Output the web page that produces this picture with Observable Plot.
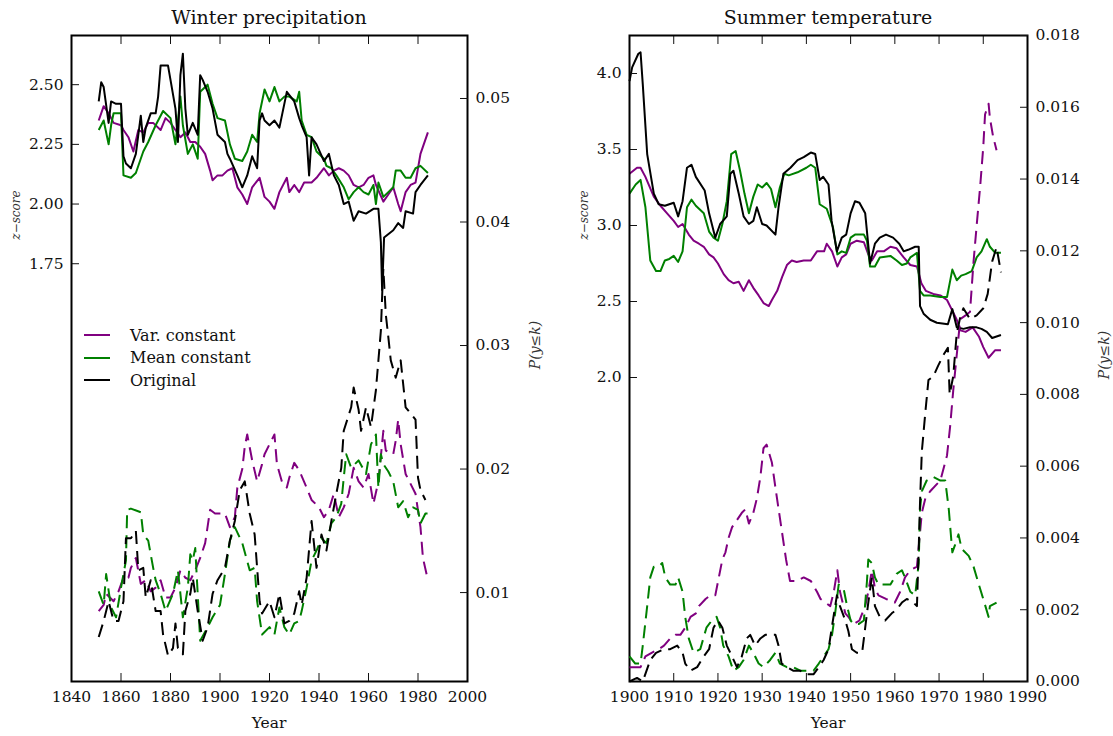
<!DOCTYPE html>
<html><head><meta charset="utf-8">
<script src="https://cdn.jsdelivr.net/npm/d3@7"></script>
<script src="https://cdn.jsdelivr.net/npm/@observablehq/plot@0.6"></script>
<style>
body{margin:0;background:#fff;}
#chart{position:relative;width:1113px;height:736px;font-family:'DejaVu Serif',serif;color:#111;background:#fff;}
.lbl{position:absolute;white-space:nowrap;line-height:1;}
.rot{transform:translate(-50%,-50%) rotate(-90deg);}
.ctr{transform:translate(-50%,-50%);}
.leg{position:absolute;left:84px;top:324px;font-size:16px;}
.leg div{height:22.5px;display:flex;align-items:center;}
.leg span.sw{display:inline-block;width:26px;height:0;border-top:2.5px solid;margin-right:20px;}
</style></head><body><div id="chart"></div>
<script>
// ---------- Winter precipitation (left panel) ----------
const wpYears = [1840, 1860, 1880, 1900, 1920, 1940, 1960, 1980, 2000];
const wpZTicks = [1.75, 2.00, 2.25, 2.50];
const wpPTicks = [0.01, 0.02, 0.03, 0.04, 0.05];

// z-score, solid lines
const wpVarZ = [[1851,2.35],[1853,2.41],[1855,2.38],[1857,2.34],[1860,2.33],[1861,2.31],[1863,2.28],[1865,2.22],[1867,2.31],[1869,2.30],[1871,2.34],[1873,2.34],[1876,2.31],[1878,2.36],[1880,2.34],[1882,2.31],[1884,2.28],[1886,2.30],[1888,2.26],[1890,2.26],[1892,2.24],[1894,2.21],[1896,2.14],[1897,2.10],[1899,2.12],[1901,2.12],[1903,2.14],[1905,2.15],[1907,2.07],[1909,2.04],[1911,2.00],[1913,2.07],[1916,2.11],[1918,2.03],[1920,2.01],[1922,1.98],[1924,2.05],[1927,2.11],[1928,2.05],[1930,2.08],[1932,2.05],[1934,2.09],[1937,2.09],[1939,2.11],[1942,2.15],[1944,2.12],[1946,2.14],[1948,2.15],[1950,2.14],[1952,2.12],[1954,2.08],[1956,2.07],[1958,2.08],[1960,2.11],[1962,2.12],[1963,2.08],[1966,2.01],[1968,2.04],[1970,2.07],[1972,2.00],[1973,1.97],[1975,2.05],[1977,2.08],[1979,2.09],[1981,2.21],[1984,2.30]];
const wpMeanZ = [[1851,2.31],[1853,2.35],[1855,2.25],[1856,2.33],[1857,2.38],[1860,2.38],[1861,2.12],[1864,2.11],[1866,2.13],[1869,2.22],[1871,2.26],[1874,2.33],[1877,2.39],[1880,2.36],[1882,2.25],[1884,2.45],[1885,2.33],[1887,2.21],[1889,2.25],[1891,2.19],[1892,2.47],[1895,2.50],[1897,2.42],[1899,2.36],[1902,2.35],[1904,2.25],[1906,2.19],[1909,2.18],[1911,2.22],[1913,2.29],[1915,2.26],[1916,2.38],[1918,2.48],[1920,2.43],[1922,2.49],[1924,2.43],[1926,2.45],[1928,2.45],[1931,2.43],[1932,2.47],[1933,2.35],[1935,2.29],[1937,2.28],[1939,2.22],[1942,2.19],[1943,2.16],[1945,2.15],[1947,2.12],[1950,2.07],[1952,2.02],[1954,2.05],[1956,2.07],[1958,2.05],[1960,2.04],[1962,2.08],[1963,2.00],[1964,2.09],[1966,2.03],[1968,2.05],[1970,2.07],[1971,2.14],[1973,2.14],[1975,2.11],[1977,2.11],[1979,2.15],[1981,2.16],[1984,2.13]];
const wpOrigZ = [[1851,2.43],[1852,2.51],[1853,2.49],[1855,2.34],[1856,2.43],[1858,2.42],[1860,2.42],[1861,2.20],[1862,2.17],[1864,2.15],[1866,2.21],[1868,2.37],[1869,2.26],[1870,2.32],[1872,2.38],[1874,2.38],[1875,2.45],[1876,2.58],[1879,2.58],[1880,2.52],[1882,2.40],[1883,2.26],[1884,2.54],[1885,2.63],[1886,2.40],[1887,2.29],[1889,2.34],[1891,2.29],[1892,2.54],[1893,2.52],[1895,2.47],[1897,2.40],[1899,2.29],[1900,2.28],[1902,2.26],[1903,2.21],[1904,2.19],[1907,2.12],[1909,2.07],[1911,2.12],[1913,2.20],[1915,2.15],[1916,2.35],[1917,2.38],[1918,2.35],[1920,2.33],[1922,2.35],[1924,2.32],[1927,2.47],[1930,2.43],[1932,2.36],[1933,2.33],[1935,2.28],[1936,2.12],[1937,2.28],[1939,2.25],[1942,2.18],[1944,2.21],[1946,2.12],[1948,2.08],[1950,2.00],[1952,2.01],[1954,1.93],[1956,1.97],[1959,1.96],[1962,1.98],[1964,1.98],[1965,1.84],[1965.5,1.64],[1966.3,1.86],[1970,1.89],[1972,1.92],[1974,1.90],[1975,1.97],[1978,1.96],[1979,2.05],[1981,2.08],[1984,2.12]];

// P(y<=k), dashed lines
const wpVarP = [[1851,0.0085],[1853,0.0090],[1854,0.0099],[1857,0.0093],[1859,0.0101],[1861,0.0112],[1863,0.0112],[1864,0.0120],[1866,0.0128],[1868,0.0107],[1870,0.0110],[1872,0.0101],[1874,0.0104],[1876,0.0110],[1878,0.0096],[1880,0.0096],[1882,0.0104],[1884,0.0118],[1886,0.0112],[1888,0.0110],[1890,0.0118],[1892,0.0128],[1894,0.0140],[1896,0.0167],[1898,0.0164],[1900,0.0164],[1902,0.0164],[1904,0.0153],[1906,0.0161],[1907,0.0185],[1909,0.0200],[1910,0.0218],[1911,0.0228],[1913,0.0207],[1915,0.0190],[1917,0.0204],[1918,0.0212],[1920,0.0220],[1922,0.0228],[1923,0.0204],[1925,0.0190],[1927,0.0185],[1928,0.0193],[1930,0.0205],[1932,0.0199],[1935,0.0185],[1937,0.0175],[1940,0.0169],[1942,0.0161],[1944,0.0167],[1946,0.0180],[1948,0.0161],[1950,0.0169],[1952,0.0180],[1954,0.0201],[1956,0.0190],[1958,0.0185],[1960,0.0196],[1962,0.0172],[1964,0.0190],[1966,0.0231],[1967,0.0215],[1970,0.0212],[1971,0.0223],[1972,0.0240],[1973,0.0220],[1975,0.0196],[1977,0.0188],[1979,0.0180],[1981,0.0153],[1982,0.0128],[1984,0.0110]];
const wpMeanP = [[1851,0.0101],[1853,0.0090],[1854,0.0115],[1856,0.0088],[1858,0.0080],[1860,0.0104],[1862,0.0126],[1862.5,0.0167],[1864,0.0168],[1868,0.0165],[1869,0.0147],[1871,0.0142],[1873,0.0120],[1874,0.0110],[1876,0.0099],[1878,0.0085],[1881,0.0099],[1883,0.0118],[1885,0.0080],[1887,0.0104],[1888,0.0131],[1889,0.0126],[1890,0.0136],[1892,0.0061],[1895,0.0072],[1897,0.0080],[1900,0.0090],[1902,0.0115],[1904,0.0142],[1906,0.0153],[1909,0.0140],[1912,0.0118],[1914,0.0120],[1915,0.0093],[1917,0.0066],[1920,0.0072],[1922,0.0066],[1924,0.0088],[1926,0.0072],[1928,0.0066],[1930,0.0075],[1932,0.0077],[1933,0.0085],[1935,0.0104],[1937,0.0126],[1939,0.0134],[1941,0.0144],[1943,0.0140],[1945,0.0156],[1947,0.0161],[1949,0.0172],[1950,0.0193],[1951,0.0212],[1953,0.0201],[1956,0.0207],[1959,0.0196],[1961,0.0220],[1963,0.0228],[1964,0.0185],[1965,0.0212],[1966,0.0204],[1968,0.0198],[1970,0.0190],[1972,0.0169],[1974,0.0174],[1976,0.0161],[1978,0.0169],[1980,0.0167],[1981,0.0156],[1983,0.0164],[1984,0.0164]];
const wpOrigP = [[1851,0.0064],[1853,0.0077],[1855,0.0093],[1857,0.0077],[1859,0.0077],[1861,0.0093],[1862,0.0144],[1864,0.0144],[1866,0.0150],[1867,0.0118],[1869,0.0120],[1870,0.0096],[1872,0.0110],[1874,0.0085],[1876,0.0085],[1877,0.0066],[1879,0.0049],[1881,0.0055],[1882,0.0075],[1883,0.0055],[1885,0.0050],[1886,0.0085],[1888,0.0099],[1889,0.0112],[1891,0.0085],[1893,0.0061],[1895,0.0072],[1897,0.0099],[1899,0.0110],[1902,0.0120],[1904,0.0142],[1906,0.0158],[1908,0.0183],[1910,0.0190],[1912,0.0164],[1914,0.0147],[1915,0.0120],[1916,0.0093],[1917,0.0083],[1920,0.0093],[1922,0.0080],[1924,0.0099],[1926,0.0075],[1928,0.0077],[1930,0.0083],[1932,0.0101],[1933,0.0090],[1935,0.0112],[1937,0.0158],[1939,0.0120],[1941,0.0147],[1943,0.0134],[1945,0.0158],[1947,0.0180],[1949,0.0201],[1950,0.0231],[1953,0.0250],[1954,0.0266],[1956,0.0248],[1957,0.0231],[1959,0.0250],[1961,0.0234],[1963,0.0264],[1964,0.0288],[1965,0.0312],[1965.6,0.0345],[1966,0.0362],[1967,0.0325],[1968,0.0307],[1969,0.0288],[1971,0.0274],[1973,0.0288],[1975,0.0250],[1977,0.0245],[1979,0.0240],[1980,0.0193],[1981,0.0183],[1983,0.0175]];

// ---------- Summer temperature (right panel) ----------
const stYears = [1900, 1910, 1920, 1930, 1940, 1950, 1960, 1970, 1980, 1990];
const stZTicks = [2.0, 2.5, 3.0, 3.5, 4.0];
const stPTicks = [0, 0.002, 0.004, 0.006, 0.008, 0.010, 0.012, 0.014, 0.016, 0.018];

const stVarZ = [[1900,3.34],[1901.7,3.38],[1902.5,3.38],[1903.6,3.32],[1905.5,3.19],[1907,3.13],[1908.5,3.08],[1910,3.03],[1911,2.99],[1912,3.01],[1913.4,2.94],[1914.5,2.90],[1915.7,2.88],[1916.8,2.86],[1918,2.81],[1919,2.79],[1920,2.75],[1921.3,2.68],[1922.4,2.64],[1923.5,2.62],[1924.7,2.63],[1925.8,2.57],[1927,2.64],[1928,2.59],[1929.2,2.54],[1930.3,2.49],[1931.5,2.47],[1932.2,2.51],[1933.4,2.57],[1934.5,2.66],[1935.6,2.74],[1936.7,2.77],[1937.8,2.76],[1939.4,2.77],[1941,2.77],[1942.4,2.83],[1944,2.83],[1944.6,2.88],[1945.8,2.83],[1947,2.73],[1948,2.79],[1949,2.81],[1950,2.88],[1951.4,2.90],[1953,2.89],[1954,2.81],[1954.8,2.77],[1956,2.83],[1957.5,2.83],[1959,2.86],[1960.4,2.85],[1962,2.79],[1963.5,2.74],[1965,2.73],[1966,2.62],[1967,2.57],[1968.7,2.55],[1970.3,2.54],[1971.8,2.51],[1973,2.44],[1974,2.38],[1974.8,2.31],[1976,2.30],[1977.6,2.33],[1979,2.27],[1980,2.20],[1981.2,2.13],[1982.7,2.18],[1984,2.18]];
const stMeanZ = [[1900,3.21],[1901.4,3.27],[1902.5,3.30],[1903.6,3.12],[1904.7,2.77],[1906,2.70],[1907,2.70],[1908,2.77],[1909,2.78],[1910,2.80],[1911,2.76],[1912,2.83],[1913,3.12],[1914,3.17],[1915,3.13],[1916.8,3.08],[1918,2.96],[1919,2.92],[1920,2.90],[1921,3.01],[1922,3.16],[1923,3.47],[1924,3.49],[1925,3.36],[1926,3.21],[1927,3.08],[1928,3.19],[1929,3.27],[1930,3.25],[1931,3.28],[1932,3.24],[1933,3.12],[1934,3.25],[1935,3.34],[1936,3.33],[1938,3.35],[1940,3.38],[1941,3.40],[1942,3.38],[1943,3.14],[1944.6,3.11],[1946,2.99],[1947,2.81],[1948,2.83],[1949,2.82],[1950,2.92],[1951,2.94],[1953,2.94],[1953.7,2.90],[1954.4,2.73],[1955.5,2.73],[1956.6,2.79],[1959,2.80],[1960.4,2.77],[1961.6,2.74],[1962.7,2.75],[1963.5,2.79],[1965,2.82],[1965.7,2.57],[1966.5,2.54],[1968,2.54],[1970.3,2.53],[1971.8,2.53],[1973,2.71],[1974,2.64],[1975,2.67],[1976,2.68],[1977.4,2.70],[1978.5,2.79],[1979.6,2.83],[1980.8,2.91],[1981.5,2.86],[1982.7,2.82],[1984,2.82]];
const stOrigZ = [[1900,3.95],[1900.6,4.04],[1902,4.13],[1902.5,4.14],[1903,3.93],[1904,3.47],[1905.5,3.21],[1906.6,3.14],[1908,3.13],[1910,3.15],[1911,3.06],[1912,3.16],[1913,3.38],[1914,3.40],[1915,3.32],[1917,3.23],[1918,3.08],[1919.4,2.92],[1920.5,3.01],[1922,3.06],[1922.8,3.34],[1923.5,3.36],[1924.7,3.21],[1925.8,3.06],[1927,3.01],[1928,3.03],[1928.8,3.12],[1930,3.01],[1931,3.00],[1933,2.94],[1933.7,3.12],[1934.8,3.34],[1936.4,3.38],[1938,3.43],[1939.4,3.45],[1941,3.48],[1942,3.47],[1943,3.30],[1943.8,3.32],[1945,3.27],[1945.7,3.03],[1946.9,2.83],[1948,2.92],[1949,2.94],[1950,3.08],[1951,3.16],[1952,3.15],[1953.3,3.08],[1954.4,2.75],[1955.5,2.88],[1956.6,2.92],[1958,2.94],[1959.6,2.92],[1961,2.88],[1962,2.83],[1963,2.84],[1964.6,2.86],[1965.4,2.86],[1965.7,2.47],[1966.5,2.42],[1968,2.38],[1969.5,2.36],[1972,2.35],[1973,2.45],[1974,2.33],[1975.5,2.32],[1977,2.33],[1978.5,2.33],[1979.6,2.32],[1980.8,2.30],[1982,2.26],[1984,2.28]];

const stVarP = [[1900,0.0004],[1901.3,0.0004],[1902.5,0.0004],[1903.6,0.0007],[1905,0.0008],[1906.6,0.0009],[1907.8,0.0010],[1909.2,0.0012],[1910.4,0.0013],[1911.5,0.0013],[1912.6,0.0015],[1913.8,0.0018],[1915,0.0019],[1915.7,0.0021],[1917.2,0.0023],[1918.3,0.0024],[1919.4,0.0024],[1920.2,0.0029],[1921,0.0034],[1921.7,0.0036],[1922.4,0.0040],[1923.2,0.0043],[1924.3,0.0045],[1925.4,0.0047],[1926.2,0.0048],[1927,0.0044],[1928,0.0047],[1928.8,0.0051],[1929.6,0.0057],[1930.3,0.0065],[1931,0.0066],[1932.2,0.0061],[1933,0.0054],[1934.2,0.0044],[1935.4,0.0034],[1936.3,0.0028],[1937.8,0.0028],[1939.4,0.0029],[1941,0.0028],[1942.4,0.0025],[1943.2,0.0023],[1944.3,0.0022],[1945.4,0.0021],[1946.2,0.0025],[1947,0.0031],[1947.6,0.0025],[1948.8,0.0019],[1949.5,0.0018],[1950.7,0.0016],[1952,0.0017],[1953.3,0.0021],[1954,0.0025],[1954.8,0.0031],[1955.5,0.0026],[1956.3,0.0024],[1958,0.0023],[1960,0.0022],[1961.2,0.0025],[1962.3,0.0029],[1963.5,0.0031],[1965,0.0032],[1966.1,0.0047],[1966.9,0.0051],[1968,0.0053],[1969.5,0.0055],[1970.3,0.0056],[1971.8,0.0063],[1972.5,0.0071],[1973.2,0.0081],[1974,0.0091],[1974.8,0.0101],[1976,0.0102],[1977,0.0103],[1977.8,0.0117],[1978.5,0.0127],[1979.3,0.0138],[1980,0.0149],[1980.4,0.0158],[1981.2,0.0161],[1981.5,0.0157],[1982.2,0.0152],[1983,0.0148]];
const stMeanP = [[1900,0.0007],[1901.3,0.0005],[1902.5,0.0005],[1903,0.0010],[1904,0.0021],[1904.7,0.0029],[1905.5,0.0032],[1906.6,0.0032],[1907.4,0.0033],[1908.1,0.0029],[1909.2,0.0027],[1910.4,0.0027],[1911,0.0029],[1912,0.0025],[1912.6,0.0018],[1913.4,0.0012],[1914.5,0.0008],[1916,0.0009],[1917.4,0.0015],[1918.6,0.0017],[1919.7,0.0018],[1920.5,0.0015],[1921.2,0.0010],[1922.4,0.0007],[1923.5,0.0003],[1924.7,0.0004],[1925.8,0.0006],[1927,0.0010],[1928,0.0008],[1929.2,0.0005],[1930.3,0.0004],[1931.8,0.0006],[1933,0.0008],[1934,0.0005],[1935.6,0.0004],[1937,0.0004],[1938.6,0.0003],[1940,0.0003],[1941.6,0.0003],[1942.8,0.0005],[1943.9,0.0007],[1945,0.0009],[1945.8,0.0013],[1946.5,0.0019],[1947.3,0.0027],[1948.4,0.0026],[1949.2,0.0021],[1950,0.0017],[1950.7,0.0016],[1951.8,0.0016],[1953,0.0017],[1953.7,0.0028],[1954,0.0034],[1954.8,0.0033],[1955.5,0.0029],[1956.3,0.0027],[1957.4,0.0027],[1959,0.0027],[1960.4,0.0030],[1961.6,0.0031],[1962.3,0.0029],[1963.5,0.0025],[1964.6,0.0024],[1965.4,0.0033],[1965.7,0.0048],[1966.1,0.0053],[1967.2,0.0056],[1968.7,0.0057],[1970.3,0.0056],[1971.4,0.0056],[1972.2,0.0048],[1973,0.0036],[1973.6,0.0038],[1974.4,0.0041],[1975.1,0.0037],[1976.7,0.0035],[1977.8,0.0032],[1979,0.0027],[1980,0.0023],[1981.2,0.0018],[1981.5,0.0021],[1983,0.0022]];
const stOrigP = [[1900,0.0000],[1901.7,0.0001],[1903,0.0000],[1904.7,0.0006],[1906,0.0008],[1907.8,0.0009],[1909.2,0.0009],[1910.8,0.0010],[1912,0.0008],[1912.6,0.0005],[1913.8,0.0003],[1915.3,0.0004],[1916.8,0.0007],[1918,0.0009],[1919,0.0015],[1920,0.0017],[1921,0.0015],[1922,0.0010],[1922.8,0.0008],[1924.3,0.0004],[1925.4,0.0007],[1926.5,0.0012],[1927.3,0.0013],[1928.4,0.0010],[1929.6,0.0012],[1930.7,0.0013],[1933,0.0013],[1933.7,0.0010],[1934.4,0.0005],[1935.6,0.0004],[1937,0.0003],[1938.6,0.0003],[1940,0.0002],[1941.6,0.0002],[1942.8,0.0004],[1943.9,0.0006],[1945,0.0009],[1946,0.0017],[1946.9,0.0024],[1947.6,0.0021],[1948.8,0.0017],[1949.5,0.0014],[1950.3,0.0009],[1951.4,0.0008],[1952.6,0.0008],[1953.3,0.0015],[1954,0.0022],[1954.8,0.0029],[1955.5,0.0021],[1956.6,0.0018],[1957.8,0.0017],[1959.3,0.0019],[1960.4,0.0020],[1961.6,0.0022],[1962.7,0.0023],[1964.2,0.0022],[1965,0.0021],[1965.4,0.0037],[1965.7,0.0050],[1966.1,0.0064],[1966.9,0.0075],[1967.6,0.0084],[1968.7,0.0085],[1969.8,0.0088],[1971,0.0091],[1972,0.0093],[1972.4,0.0080],[1973.2,0.0085],[1974,0.0097],[1974.7,0.0101],[1975.5,0.0104],[1977,0.0101],[1978.5,0.0102],[1980,0.0104],[1981,0.0108],[1982,0.0117],[1983,0.0121],[1984,0.0114]];

const seriesNames = ["Var. constant", "Mean constant", "Original"];
const seriesColors = ["#800080", "#008000", "#000000"];

// ---------- drawing ----------
const chart = document.getElementById("chart");
const fontStyle = {fontFamily: "'DejaVu Serif', serif", fontSize: "15.5px", color: "#111", background: "transparent", overflow: "visible"};

function place(el, left) {
  el.style.position = "absolute";
  el.style.left = left + "px";
  el.style.top = "0px";
  el.style.maxWidth = "none";
  chart.appendChild(el);
}

function line(data, color, dashed) {
  return Plot.line(data, {x: d => d[0], y: d => d[1], stroke: color, strokeWidth: 2,
    strokeDasharray: dashed ? "13,7" : null, strokeLinejoin: "round", strokeLinecap: "butt"});
}

function panel(o) {
  const common = {width: o.width, height: 736, marginLeft: o.mL, marginRight: o.mR, marginTop: 35, marginBottom: 55,
    style: fontStyle, x: {domain: [o.xTicks[0], o.xTicks[o.xTicks.length - 1]], axis: null, label: null}};
  const zPlot = Plot.plot({...common,
    y: {domain: o.zDomain, axis: null, label: null},
    marks: [
      ...o.z.map((s, i) => line(s, seriesColors[i], false)),
      Plot.axisX({ticks: o.xTicks, tickFormat: "d", tickSize: -8, tickPadding: 17, label: null}),
      Plot.axisX({anchor: "top", ticks: o.xTicks, tickFormat: () => "", tickSize: -8, label: null}),
      Plot.axisY({ticks: o.zTicks, tickFormat: o.zFmt, tickSize: -8, tickPadding: 16, label: null}),
      Plot.frame({stroke: "#000", strokeWidth: 2})
    ]});
  const pPlot = Plot.plot({...common,
    y: {domain: o.pDomain, axis: null, label: null},
    marks: [
      ...o.p.map((s, i) => line(s, seriesColors[i], true)),
      Plot.axisY({anchor: "right", ticks: o.pTicks, tickFormat: o.pFmt, tickSize: -8, tickPadding: 16, label: null})
    ]});
  place(zPlot, o.left);
  place(pPlot, o.left);
}

panel({left: 0, width: 556, mL: 71, mR: 89, xTicks: wpYears,
  zDomain: [0, 2.706], zTicks: wpZTicks, zFmt: ".2f",
  pDomain: [0.0028, 0.0551], pTicks: wpPTicks, pFmt: ".2f",
  z: [wpVarZ, wpMeanZ, wpOrigZ], p: [wpVarP, wpMeanP, wpOrigP]});

panel({left: 556, width: 557, mL: 73, mR: 86, xTicks: stYears,
  zDomain: [0, 4.25], zTicks: stZTicks, zFmt: ".1f",
  pDomain: [0, 0.018], pTicks: stPTicks, pFmt: ".3f",
  z: [stVarZ, stMeanZ, stOrigZ], p: [stVarP, stMeanP, stOrigP]});

// ---------- text ----------
function label(text, x, y, cls, size, extra) {
  const d = document.createElement("div");
  d.className = "lbl " + cls;
  d.style.left = x + "px"; d.style.top = y + "px";
  d.style.fontSize = size + "px";
  if (extra) Object.assign(d.style, extra);
  d.innerHTML = text;
  chart.appendChild(d);
}
label("Winter precipitation", 269, 17, "ctr", 19);
label("Summer temperature", 828, 17, "ctr", 19);
label("Year", 269, 724, "ctr", 15.5);
label("Year", 828, 724, "ctr", 15.5);
label("z\u2212score", 16, 215, "rot", 12, {fontStyle: "italic", color: "#333"});
label("z\u2212score", 584, 215, "rot", 12, {fontStyle: "italic", color: "#333"});
label("P(y\u2264k)", 535, 345, "rot", 14, {fontStyle: "italic", color: "#333"});
label("P(y\u2264k)", 1104, 355, "rot", 14, {fontStyle: "italic", color: "#333"});

const leg = document.createElement("div");
leg.className = "leg";
seriesNames.forEach((n, i) => {
  const row = document.createElement("div");
  const sw = document.createElement("span");
  sw.className = "sw"; sw.style.borderColor = seriesColors[i];
  row.appendChild(sw);
  row.appendChild(document.createTextNode(n));
  leg.appendChild(row);
});
chart.appendChild(leg);
</script></body></html>
